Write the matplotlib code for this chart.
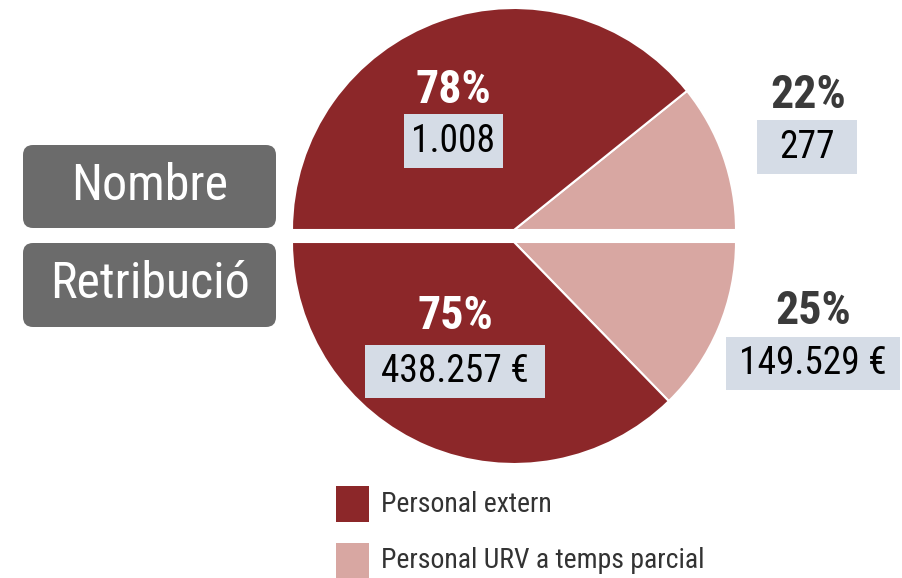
import matplotlib.pyplot as plt
from matplotlib.patches import FancyBboxPatch, Rectangle
from matplotlib import font_manager

# dades
categories = ['Personal extern', 'Personal URV a temps parcial']
nombre = [1008, 277]
retribucio = [438257, 149529]
pct_nombre = ['78%', '22%']
pct_retribucio = ['75%', '25%']
lbl_nombre = ['1.008', '277']
lbl_retribucio = ['438.257 €', '149.529 €']
grups = ['Nombre', 'Retribució']

DARK = '#8c2729'
PINK = '#d8a7a2'
BOXC = '#d5dce6'
GRAY = '#6b6b6b'

names = {f.name for f in font_manager.fontManager.ttflist}
cands = ['Roboto Condensed', 'Barlow Semi Condensed', 'Liberation Sans Narrow', 'DejaVu Sans']
FONT = [c for c in cands if c in names][0]
plt.rcParams['font.family'] = [FONT, 'DejaVu Sans']

W, H = 902, 578
fig = plt.figure(figsize=(W / 100, H / 100), dpi=100)
ax = fig.add_axes([0, 0, 1, 1])

def Y(y):
    return H - y

cx, r = 514, 222
# meitat superior: nombre
w1, _ = ax.pie(nombre[::-1] + [sum(nombre)], center=(cx, Y(230)), radius=r,
               startangle=0, counterclock=True, colors=[PINK, DARK, 'none'],
               wedgeprops=dict(edgecolor='white', linewidth=1.5))
w1[2].set_edgecolor('none')
# meitat inferior: retribucio
w2, _ = ax.pie(retribucio[::-1] + [sum(retribucio)], center=(cx, Y(242)), radius=r,
               startangle=0, counterclock=False, colors=[PINK, DARK, 'none'],
               wedgeprops=dict(edgecolor='white', linewidth=1.5))
w2[2].set_edgecolor('none')

ax.set_xlim(0, W)
ax.set_ylim(0, H)
ax.set_axis_off()

def etiqueta(x, y, pct, val, pc, box):
    ax.text(x, Y(y), pct, color=pc, fontsize=33, fontweight='heavy',
            ha='center', va='center')
    x0, y0, x1, y1 = box
    ax.add_patch(Rectangle((x0, Y(y1)), x1 - x0, y1 - y0, facecolor=BOXC, edgecolor='none'))
    ax.text((x0 + x1) / 2, Y((y0 + y1) / 2), val, color='black', fontsize=27,
            ha='center', va='center')

etiqueta(453, 90, pct_nombre[0], lbl_nombre[0], 'white', (404, 114, 503, 168))
etiqueta(808, 95, pct_nombre[1], lbl_nombre[1], '#3a3a3a', (757, 120, 857, 174))
etiqueta(455, 316, pct_retribucio[0], lbl_retribucio[0], 'white', (365, 345, 545, 398))
etiqueta(813, 311, pct_retribucio[1], lbl_retribucio[1], '#3a3a3a', (726, 337, 900, 390))

# caixes grises
for g, (y0, y1) in zip(grups, [(145, 228), (243, 327)]):
    ax.add_patch(FancyBboxPatch((23, Y(y1)), 253, y1 - y0,
                                boxstyle='round,pad=0,rounding_size=10',
                                facecolor=GRAY, edgecolor='none'))
    ax.text(150, Y((y0 + y1) / 2 - 1), g, color='white', fontsize=36,
            ha='center', va='center')

# llegenda
for c, lab, y0 in zip([DARK, PINK], categories, [486, 543]):
    ax.add_patch(Rectangle((336, Y(y0 + 36)), 33, 36, facecolor=c, edgecolor='none'))
    ax.text(381, Y(y0 + 18), lab, color='#333333', fontsize=20,
            ha='left', va='center')

fig.savefig('out.png', dpi=100)
